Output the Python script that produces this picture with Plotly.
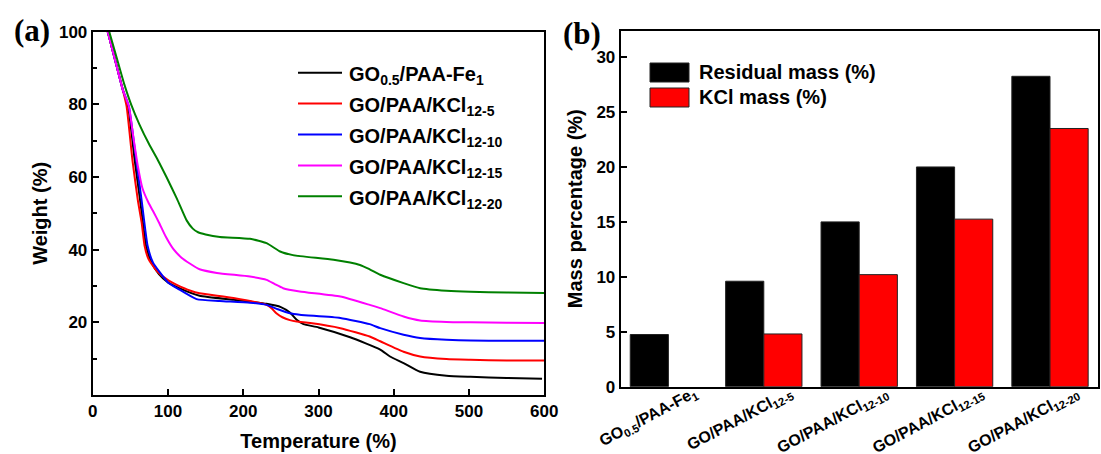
import plotly.graph_objects as go

# ---------------- data ----------------
# panel (a): TGA curves, temperature (deg C) vs weight (%)
T_fe = [20, 30, 40, 47, 56, 63, 71, 78, 88, 100, 115, 142, 187, 231, 250, 262, 271, 280, 300, 342, 382, 395, 413, 435, 470, 502, 550, 597]
W_fe = [100, 92, 84, 79.5, 64.3, 53.6, 41, 36.5, 33.3, 31.0, 29.4, 27.3, 26.2, 25.1, 24.2, 22.7, 20.7, 19.5, 18.6, 15.9, 12.5, 10.6, 8.8, 6.4, 5.3, 5.0, 4.7, 4.5]

T_k5 = [20, 30, 40, 45, 53, 60, 65, 69, 74, 85, 100, 111, 130, 142, 187, 231, 238, 244, 252, 262, 271, 289, 329, 368, 382, 413, 435, 470, 502, 550, 600]
W_k5 = [100, 92, 84, 79.5, 64.3, 53.6, 47.5, 41, 37.5, 34.2, 31.6, 30.4, 28.7, 28.0, 26.7, 24.8, 23.8, 22.5, 21.4, 20.6, 20.2, 19.8, 18.4, 16.1, 14.8, 11.9, 10.6, 9.9, 9.7, 9.5, 9.5]

T_k10 = [20, 30, 40, 48, 58, 65, 73, 80, 89, 100, 113, 138, 169, 209, 231, 246, 262, 275, 329, 368, 382, 413, 435, 470, 502, 550, 600]
W_k10 = [100, 92, 84, 79.5, 64.3, 53.6, 41, 36.5, 33.8, 31.0, 29.3, 26.4, 25.9, 25.4, 24.8, 23.6, 22.5, 22.1, 21.2, 19.5, 18.4, 16.6, 15.7, 15.2, 15.0, 14.9, 14.9]

T_k15 = [20, 30, 40, 48, 54, 60, 66, 74, 81, 88, 97, 107, 118, 129, 142, 165, 209, 231, 242, 253, 275, 329, 368, 382, 413, 435, 470, 502, 550, 600]
W_k15 = [100, 92, 84, 79.5, 71, 63, 57, 53, 50.3, 47.5, 43.6, 40.2, 37.8, 36.2, 34.6, 33.6, 32.6, 31.7, 30.5, 29.4, 28.5, 27.1, 24.8, 23.9, 21.6, 20.5, 20.1, 20.0, 19.9, 19.8]

T_k20 = [22, 33, 42, 51, 62, 75, 87, 98, 112, 125, 133, 140, 150, 169, 209, 231, 249, 266, 320, 355, 368, 382, 413, 435, 470, 502, 550, 600]
W_k20 = [100, 92, 85.5, 80, 74.5, 69, 64.5, 60, 54, 48, 45.8, 44.8, 44.2, 43.5, 43.0, 41.8, 39.5, 38.5, 37.2, 35.8, 34.6, 33.1, 30.8, 29.4, 28.7, 28.4, 28.2, 28.1]

curve_names = ["GO<sub>0.5</sub>/PAA-Fe<sub>1</sub>", "GO/PAA/KCl<sub>12-5</sub>", "GO/PAA/KCl<sub>12-10</sub>",
               "GO/PAA/KCl<sub>12-15</sub>", "GO/PAA/KCl<sub>12-20</sub>"]
curve_colors = ["#000000", "#FF0000", "#0000FF", "#FF00FF", "#008000"]

# panel (b): bar chart
samples = ["GO<sub>0.5</sub>/PAA-Fe<sub>1</sub>", "GO/PAA/KCl<sub>12-5</sub>", "GO/PAA/KCl<sub>12-10</sub>",
           "GO/PAA/KCl<sub>12-15</sub>", "GO/PAA/KCl<sub>12-20</sub>"]
residual_mass = [4.75, 9.6, 15.0, 20.0, 28.25]
kcl_mass = [0, 4.8, 10.2, 15.25, 23.5]

x_ticks_a = [0, 100, 200, 300, 400, 500, 600]
y_ticks_a = [20, 40, 60, 80, 100]
y_minor_a = [10, 30, 50, 70, 90]
y_ticks_b = [0, 5, 10, 15, 20, 25, 30]

# ---------------- figure ----------------
FW, FH = 1101, 454
def fx(p):
    return p / FW
def fy(p):
    return 1 - p / FH

FONT = "Arial, 'Liberation Sans', sans-serif"
SERIF = "'Times New Roman', 'Liberation Serif', serif"

fig = go.Figure()
curves = [(T_fe, W_fe), (T_k5, W_k5), (T_k10, W_k10), (T_k15, W_k15), (T_k20, W_k20)]
for (T, Wt), name, col in zip(curves, curve_names, curve_colors):
    fig.add_trace(go.Scatter(x=T, y=Wt, mode="lines", name=name,
                             line=dict(color=col, width=2, shape="spline", smoothing=0.5),
                             xaxis="x", yaxis="y", showlegend=False))

fig.add_trace(go.Bar(x=samples, y=residual_mass, name="Residual mass (%)",
                     marker=dict(color="#000000", line=dict(color="#222222", width=1)),
                     xaxis="x2", yaxis="y2", showlegend=False))
fig.add_trace(go.Bar(x=samples, y=kcl_mass, name="KCl mass (%)",
                     marker=dict(color="#FF0000",
                                 line=dict(color="#222222", width=[0 if v == 0 else 1 for v in kcl_mass])),
                     xaxis="x2", yaxis="y2", showlegend=False))

tickfont = dict(family=FONT, size=17, color="black", weight="bold")
titlefont = dict(family=FONT, size=20, color="black", weight="bold")
common = dict(showline=True, linecolor="black", linewidth=2, mirror=True,
              ticks="inside", tickcolor="black", tickwidth=2, ticklen=6,
              showgrid=False, zeroline=False, tickfont=tickfont, automargin=False)

fig.update_layout(
    template="none",
    width=FW, height=FH,
    margin=dict(l=0, r=0, t=0, b=0),
    paper_bgcolor="white", plot_bgcolor="white",
    barmode="group", bargap=0.2, bargroupgap=0,
    xaxis=dict(domain=[fx(92.7), fx(544.3)], range=[0, 600], tickvals=x_ticks_a,
               anchor="y", title=dict(text="Temperature (%)", font=titlefont, standoff=14), **common),
    yaxis=dict(domain=[fy(395), fy(31.7)], range=[0, 100], tickvals=y_ticks_a,
               minor=dict(tickvals=y_minor_a, ticks="inside", ticklen=4, tickwidth=2, tickcolor="black"),
               anchor="x", title=dict(text="Weight (%)", font=titlefont, standoff=6), **common),
    xaxis2=dict(domain=[fx(620.7), fx(1097.7)], type="category", range=[-0.5, 4.5],
                anchor="y2", showline=True, linecolor="black", linewidth=2, mirror=True,
                ticks="", showgrid=False, zeroline=False, tickangle=-28, automargin=False,
                ticklabelshift=26, ticklabelstandoff=-11,
                tickfont=dict(family=FONT, size=16, color="black", weight="bold")),
    yaxis2=dict(domain=[fy(386.7), fy(30.7)], range=[0, 32.4], tickvals=y_ticks_b,
                anchor="x2", title=dict(text="Mass percentage (%)", font=titlefont, standoff=8), **common),
)

annotations = [
    dict(text="(a)", x=fx(32), y=fy(31), xref="paper", yref="paper", showarrow=False,
         xanchor="center", yanchor="middle", font=dict(family=SERIF, size=31, color="black", weight="bold")),
    dict(text="(b)", x=fx(582), y=fy(33), xref="paper", yref="paper", showarrow=False,
         xanchor="center", yanchor="middle", font=dict(family=SERIF, size=31, color="black", weight="bold")),
]
shapes = []
legfont = dict(family=FONT, size=20, color="black", weight="bold")
for i, (name, col) in enumerate(zip(curve_names, curve_colors)):
    yy = 72.7 + 30.9 * i
    shapes.append(dict(type="line", xref="paper", yref="paper", x0=fx(298), x1=fx(342),
                       y0=fy(yy), y1=fy(yy), line=dict(color=col, width=2)))
    annotations.append(dict(text=name, x=fx(347), y=fy(yy + 3), xref="paper", yref="paper",
                            showarrow=False, xanchor="left", yanchor="middle", font=legfont))

bar_leg = [("Residual mass (%)", "#000000", 63, 82), ("KCl mass (%)", "#FF0000", 88, 107)]
for text, col, y0, y1 in bar_leg:
    shapes.append(dict(type="rect", xref="paper", yref="paper", x0=fx(650), x1=fx(689),
                       y0=fy(y1), y1=fy(y0), fillcolor=col, line=dict(color="#222222", width=1)))
    annotations.append(dict(text=text, x=fx(697), y=fy((y0 + y1) / 2), xref="paper", yref="paper",
                            showarrow=False, xanchor="left", yanchor="middle", font=legfont))

fig.update_layout(annotations=annotations, shapes=shapes)
fig.write_html("out.html")
